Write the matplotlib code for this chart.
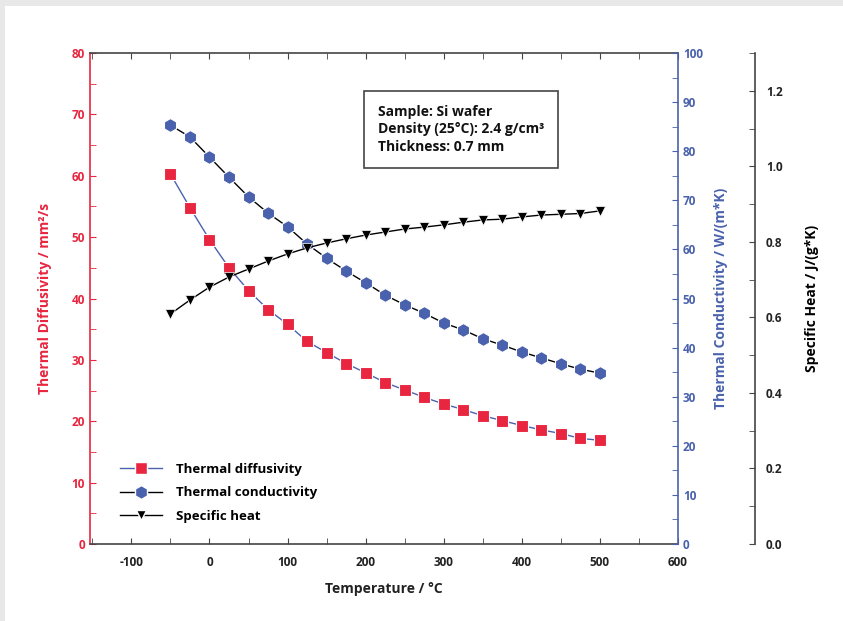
import matplotlib
matplotlib.use("Agg")
from matplotlib import pyplot as plt
from matplotlib.patches import Rectangle
from matplotlib.ticker import MultipleLocator
from matplotlib.lines import Line2D

plt.rcParams['font.family'] = ['Open Sans', 'DejaVu Sans']
plt.rcParams['font.weight'] = 'bold'
plt.rcParams['axes.labelweight'] = 'bold'
plt.rcParams['axes.unicode_minus'] = False

RED = '#e8263f'
BLUE = '#4a62ad'
GREY = '#444444'

temps = [-50, -25, 0, 25, 50, 75, 100, 125, 150, 175, 200, 225, 250,
         275, 300, 325, 350, 375, 400, 425, 450, 475, 500]
diffusivity = [60.3, 54.8, 49.6, 45.0, 41.3, 38.2, 35.8, 33.0, 31.2, 29.4,
               27.9, 26.3, 25.1, 23.9, 22.8, 21.9, 20.9, 20.1, 19.3, 18.6,
               18.0, 17.2, 16.9]
conductivity = [85.3, 82.9, 78.8, 74.7, 70.7, 67.4, 64.6, 61.1, 58.2, 55.6,
                53.2, 50.7, 48.7, 47.0, 45.0, 43.6, 41.8, 40.5, 39.1, 37.9,
                36.7, 35.6, 34.8]
specific_heat = [0.609, 0.646, 0.680, 0.707, 0.728, 0.749, 0.768, 0.784,
                 0.797, 0.808, 0.818, 0.826, 0.834, 0.839, 0.845, 0.852,
                 0.858, 0.860, 0.866, 0.871, 0.873, 0.875, 0.882]

fig = plt.figure(figsize=(8.43, 6.21), dpi=100)
fig.patch.set_facecolor('#e8e8e8')
fig.patches.append(Rectangle((5 / 843, 0), 1, 1 - 6 / 621, transform=fig.transFigure,
                             facecolor='white', edgecolor='none', zorder=-10))

ax = fig.add_axes([90 / 843, 1 - 544 / 621, (678 - 90) / 843, (544 - 53) / 621])
ax.set_facecolor('none')
ax2 = ax.twinx()
ax3 = ax.twinx()
ax3.spines['right'].set_position(('axes', (755 - 90) / (678 - 90)))

ax.plot(temps, diffusivity, color=BLUE, lw=1, marker='s', ms=9, mfc=RED,
        mec='white', mew=0.8, zorder=3)
ax2.plot(temps, conductivity, color='black', lw=1, marker='h', ms=10, mfc=BLUE,
         mec='white', mew=0.8, zorder=3)
ax3.plot(temps, specific_heat, color='black', lw=1, marker='v', ms=7, mfc='black',
         mec='white', mew=0.5, zorder=3)

ax.set_xlim(-153, 600)
ax.set_ylim(0, 80)
ax2.set_ylim(0, 100)
ax3.set_ylim(0, 1.3)

ax.xaxis.set_major_locator(MultipleLocator(100))
ax.xaxis.set_minor_locator(MultipleLocator(50))
ax.yaxis.set_major_locator(MultipleLocator(10))
ax.yaxis.set_minor_locator(MultipleLocator(5))
ax2.yaxis.set_major_locator(MultipleLocator(10))
ax2.yaxis.set_minor_locator(MultipleLocator(5))
ax3.yaxis.set_major_locator(MultipleLocator(0.2))
ax3.yaxis.set_minor_locator(MultipleLocator(0.1))
ax3.yaxis.set_major_formatter(lambda v, p: f"{v:.1f}")

for a in (ax, ax2, ax3):
    for s in a.spines.values():
        s.set_linewidth(1.2)
ax.spines['left'].set_color(RED)
ax.spines['top'].set_color(GREY)
ax.spines['bottom'].set_color(GREY)
ax2.spines['right'].set_color(BLUE)
ax3.spines['right'].set_color(GREY)
for a in (ax2, ax3):
    a.spines['left'].set_visible(False)
    a.spines['top'].set_visible(False)
    a.spines['bottom'].set_visible(False)
ax.spines['right'].set_visible(False)

ax.tick_params(axis='x', which='both', direction='in', top=True, colors=GREY,
               labelcolor='#222222', labelsize=8.5, pad=9, length=4)
ax.tick_params(axis='y', which='both', direction='in', colors=RED, labelsize=8.5, length=4)
ax2.tick_params(axis='y', which='both', direction='in', colors=BLUE, labelsize=8.5, length=4)
ax3.tick_params(axis='y', which='both', direction='in', colors=GREY, labelcolor='#222222',
                labelsize=8.5, length=4, pad=8)

ax.set_xlabel("Temperature / °C", fontsize=10, color='#222222', labelpad=9)
ax.set_ylabel("Thermal Diffusivity / mm²/s", fontsize=10, color=RED, labelpad=14)
ax2.set_ylabel("Thermal Conductivity / W/(m*K)", fontsize=10, color=BLUE, labelpad=8)
ax3.set_ylabel("Specific Heat / J/(g*K)", fontsize=10, color='black', labelpad=16)

ax.text(0.49, 0.895, "Sample: Si wafer\nDensity (25°C): 2.4 g/cm³\nThickness: 0.7 mm",
        transform=ax.transAxes, fontsize=10, color='#111111', va='top', ha='left',
        linespacing=1.35,
        bbox=dict(boxstyle='square,pad=1.0', facecolor='white', edgecolor=GREY, lw=1.2))

handles = [
    Line2D([], [], color=BLUE, lw=1, marker='s', ms=9, mfc=RED, mec='white'),
    Line2D([], [], color='black', lw=1, marker='h', ms=10, mfc=BLUE, mec='white'),
    Line2D([], [], color='black', lw=1, marker='v', ms=7, mfc='black', mec='white'),
]
labels = ["Thermal diffusivity", "Thermal conductivity", "Specific heat"]
ax.legend(handles, labels, loc='lower left', bbox_to_anchor=(0.03, 0.019), frameon=False,
          fontsize=9.5, handlelength=3.2, labelspacing=0.8, handletextpad=1.1)

fig.savefig("out.png", dpi=100, facecolor=fig.get_facecolor())
